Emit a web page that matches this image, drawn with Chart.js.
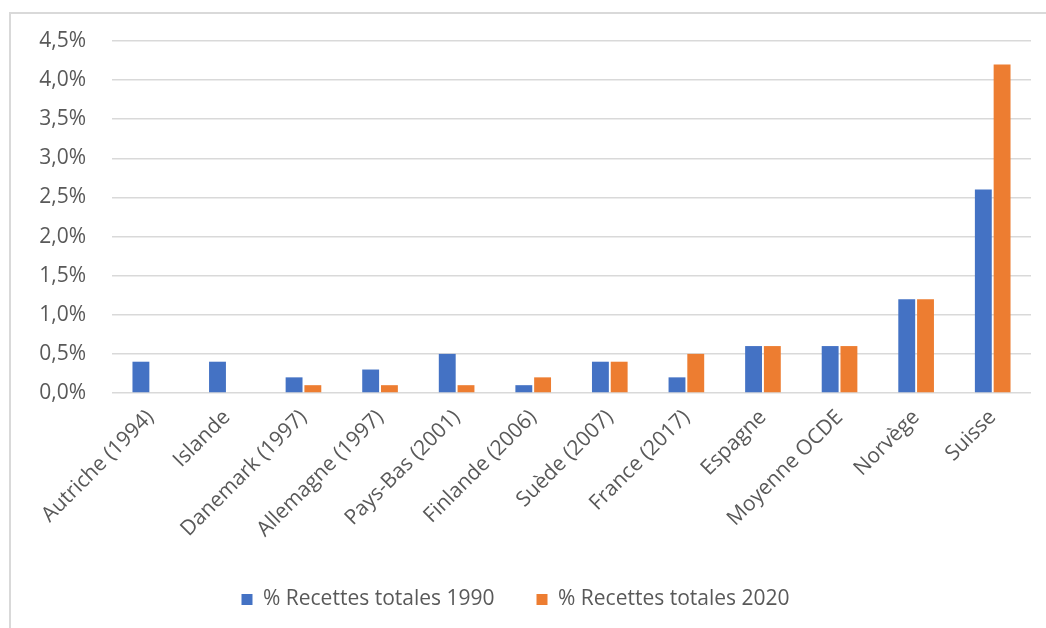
<!DOCTYPE html>
<html>
<head>
<meta charset="utf-8">
<script src="https://cdn.jsdelivr.net/npm/chart.js@4.4.0/dist/chart.umd.min.js"></script>
<style>
  html, body { margin: 0; padding: 0; background: #fff; overflow: hidden; }
  #frame { position: absolute; left: 9px; top: 12px; width: 1100px; height: 700px; border: 2px solid #d9d9d9; }
  #wrap { position: absolute; left: 0; top: 0; width: 1046px; height: 628px; }
</style>
</head>
<body>
<div id="frame"></div>
<div id="wrap"><canvas id="chart"></canvas></div>
<script>
const categories = ['Autriche (1994)', 'Islande', 'Danemark (1997)', 'Allemagne (1997)', 'Pays-Bas (2001)', 'Finlande (2006)', 'Suède (2007)', 'France (2017)', 'Espagne', 'Moyenne OCDE', 'Norvège', 'Suisse'];
const recettes1990 = [0.4, 0.4, 0.2, 0.3, 0.5, 0.1, 0.4, 0.2, 0.6, 0.6, 1.2, 2.6];
const recettes2020 = [null, null, 0.1, 0.1, 0.1, 0.2, 0.4, 0.5, 0.6, 0.6, 1.2, 4.2];
const seriesNames = ['% Recettes totales 1990', '% Recettes totales 2020'];

Chart.defaults.font.family = "'Open Sans', sans-serif";
Chart.defaults.color = '#595959';

const ctx = document.getElementById('chart').getContext('2d');
new Chart(ctx, {
    type: 'bar',
    data: {
        labels: categories,
        datasets: [
            { label: seriesNames[0], data: recettes1990, backgroundColor: '#4472C4' },
            { label: seriesNames[1], data: recettes2020, backgroundColor: '#ED7D31' }
        ]
    },
    options: {
        responsive: true, maintainAspectRatio: false, animation: false,
        layout: { padding: { top: 41, right: 15, bottom: 8, left: 0 } },
        datasets: { bar: { categoryPercentage: 0.49, barPercentage: 0.9 } },
        plugins: {
            legend: { position: 'bottom', labels: { boxWidth: 11, boxHeight: 11, padding: 42, font: { size: 21 }, color: '#595959' } },
            tooltip: { enabled: false }
        },
        scales: {
            y: {
                min: 0, max: 4.5,
                afterFit: s => { s.width = 112; },
                border: { display: false },
                grid: { color: '#d9d9d9', lineWidth: 1.5, drawTicks: false },
                ticks: { stepSize: 0.5, padding: 26, font: { size: 21 }, color: '#595959', callback: v => v.toFixed(1).replace('.', ',') + '%' }
            },
            x: {
                afterFit: s => { s.height = 154; },
                border: { display: false },
                grid: { display: false },
                ticks: { minRotation: 45, maxRotation: 45, autoSkip: false, padding: 4, font: { size: 21 }, color: '#595959' }
            }
        }
    }
});
</script>
</body>
</html>
